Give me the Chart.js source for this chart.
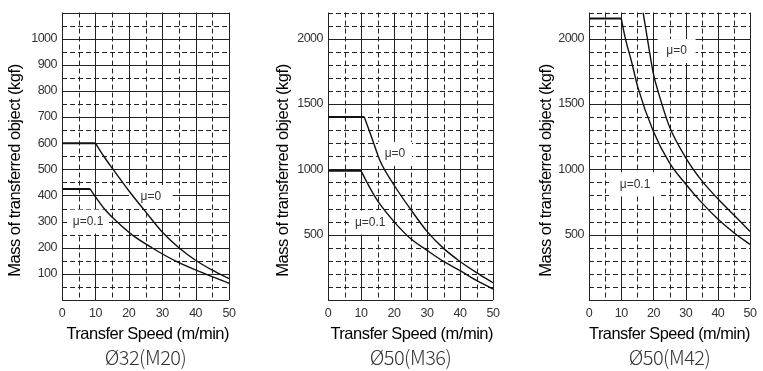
<!DOCTYPE html>
<html>
<head>
<meta charset="utf-8">
<script src="https://cdn.jsdelivr.net/npm/chart.js@4.4.0/dist/chart.umd.min.js"></script>
<style>
  html, body { margin: 0; padding: 0; background: #fff; }
  #wrap { position: relative; width: 763px; height: 371px; }
  canvas { position: absolute; top: 0; }
</style>
</head>
<body>
<div id="wrap">
  <canvas id="c1" width="254" height="371" style="left:0px"></canvas>
  <canvas id="c2" width="254" height="371" style="left:254px"></canvas>
  <canvas id="c3" width="255" height="371" style="left:508px"></canvas>
</div>
<script>
// Ø32(M20)
var m20Mu0Speed  = [0, 10, 12.5, 15, 20, 25, 30, 35, 40, 45, 50];
var m20Mu0Mass   = [600, 600, 550, 505, 418, 338, 260, 200, 152, 114, 82];
var m20Mu01Speed = [0, 8.4, 10, 12.6, 16.4, 20.9, 26.9, 33.9, 42.9, 50];
var m20Mu01Mass  = [425, 425, 395, 350, 300, 250, 200, 150, 100, 64];

// Ø50(M36)
var m36Mu0Speed  = [0, 11, 13.3, 15.8, 20, 25, 30, 35, 40, 45, 50];
var m36Mu0Mass   = [1400, 1400, 1240, 1063, 880, 695, 525, 395, 295, 210, 132];
var m36Mu01Speed = [0, 10, 11.8, 15, 20, 25, 30, 35, 40, 45, 50];
var m36Mu01Mass  = [990, 990, 900, 760, 600, 470, 380, 295, 225, 150, 84];

// Ø50(M42)
var m42Mu0Speed  = [16.8, 18, 20, 21.7, 25, 30, 35, 40, 45, 50];
var m42Mu0Mass   = [2200, 2020, 1730, 1575, 1325, 1090, 913, 775, 650, 525];
var m42Mu01Speed = [0, 10, 11.3, 13.2, 15.2, 20, 25, 30, 35, 40, 45, 50];
var m42Mu01Mass  = [2155, 2155, 2000, 1825, 1625, 1290, 1050, 888, 745, 620, 515, 425];

var speedTicks = [0, 10, 20, 30, 40, 50];
var m20MassTicks = [100, 200, 300, 400, 500, 600, 700, 800, 900, 1000];
var m50MassTicks = [500, 1000, 1500, 2000];

var titleFont = "'Liberation Sans', Arial, sans-serif";

function toPoints(xs, ys){
    var pts = [];
    for(var i = 0; i < xs.length; i++) pts.push({x: xs[i], y: ys[i]});
    return pts;
}

// flat part (straight) + falling part (smooth)
function seriesSets(xs, ys){
    var pts = toPoints(xs, ys);
    var knee = 0;
    while(knee + 1 < ys.length && ys[knee + 1] === ys[0]) knee++;
    var sets = [];
    if(knee > 0){
        sets.push({data: pts.slice(0, knee + 1), borderColor: '#111', borderWidth: 2, pointRadius: 0, tension: 0});
    }
    sets.push({data: pts.slice(knee), borderColor: '#111', borderWidth: 1.4, pointRadius: 0, cubicInterpolationMode: 'monotone'});
    return sets;
}

// dashed / solid grid and label boxes
var gridPlugin = {
    id: 'gridPlugin',
    beforeDraw: function(chart){
        // the scanned labels are set tight
        chart.ctx.letterSpacing = '-0.5px';
    },
    beforeDatasetsDraw: function(chart, args, opts){
        var ctx = chart.ctx, a = chart.chartArea;
        var xs = chart.scales.x, ys = chart.scales.y;
        ctx.letterSpacing = '0px';
        ctx.save();
        ctx.strokeStyle = '#222';
        ctx.lineWidth = 1;
        xs.ticks.forEach(function(t){
            var px = Math.round(xs.getPixelForValue(t.value)) + 0.5;
            ctx.setLineDash(t.value % 10 === 0 ? [] : [5, 3]);
            ctx.beginPath(); ctx.moveTo(px, a.top); ctx.lineTo(px, a.bottom); ctx.stroke();
        });
        ys.ticks.forEach(function(t){
            var py = Math.round(ys.getPixelForValue(t.value)) + 0.5;
            ctx.setLineDash(t.value % opts.major === 0 ? [] : [5, 3]);
            ctx.beginPath(); ctx.moveTo(a.left, py); ctx.lineTo(a.right, py); ctx.stroke();
        });
        ctx.setLineDash([]);
        ctx.font = "12px 'Liberation Sans', sans-serif";
        ctx.textAlign = 'center';
        ctx.textBaseline = 'middle';
        opts.labels.forEach(function(l){
            var cx = xs.getPixelForValue(l.x), cy = ys.getPixelForValue(l.y);
            ctx.fillStyle = '#fff';
            ctx.fillRect(cx - l.w / 2, cy - 12, l.w, 24);
            ctx.fillStyle = '#333';
            ctx.fillText(l.text, cx, cy);
        });
        ctx.restore();
    }
};

function makeChart(id, sets, yMax, yStep, labelTicks, major, yWidth, yTitlePad, padRight, title, labels){
    return new Chart(document.getElementById(id).getContext('2d'), {
        type: 'line',
        data: { datasets: sets },
        plugins: [gridPlugin],
        options: {
            responsive: false,
            animation: false,
            layout: { padding: { top: 6, left: 0, right: padRight, bottom: 2 } },
            scales: {
                x: {
                    type: 'linear', min: 0, max: 50,
                    grid: { display: false, drawTicks: false },
                    border: { display: false },
                    ticks: {
                        stepSize: 5, autoSkip: false, maxRotation: 0, padding: 6,
                        color: '#333', font: { family: "'Liberation Sans', sans-serif", size: 12.5 },
                        callback: function(v){ return speedTicks.indexOf(v) >= 0 ? String(v) : ''; }
                    },
                    title: {
                        display: true, text: 'Transfer Speed (m/min)', color: '#000', align: 'end',
                        font: { family: titleFont, size: 16.5 }, padding: { top: 0, bottom: 0 }
                    },
                    afterFit: function(s){ s.height = 44; }
                },
                y: {
                    type: 'linear', min: 0, max: yMax,
                    grid: { display: false, drawTicks: false },
                    border: { display: false },
                    ticks: {
                        stepSize: yStep, autoSkip: false, padding: 5,
                        color: '#333', font: { family: "'Liberation Sans', sans-serif", size: 12.5 },
                        callback: function(v){ return labelTicks.indexOf(v) >= 0 ? String(v) : ''; }
                    },
                    title: {
                        display: true, text: 'Mass of transferred object (kgf)       ', color: '#000',
                        font: { family: titleFont, size: 16.5 }, padding: { top: yTitlePad, bottom: 0 }
                    },
                    afterFit: function(s){ s.width = yWidth; }
                }
            },
            plugins: {
                legend: { display: false },
                tooltip: { enabled: false },
                title: {
                    display: true, position: 'bottom', fullSize: false, text: title, color: '#333',
                    font: { family: "'Noto Sans CJK KR', 'Noto Sans', sans-serif", size: 20, weight: 300 },
                    padding: { top: 1, bottom: 0 }
                },
                gridPlugin: { major: major, labels: labels }
            }
        }
    });
}

makeChart('c1', seriesSets(m20Mu0Speed, m20Mu0Mass).concat(seriesSets(m20Mu01Speed, m20Mu01Mass)),
    1100, 50, m20MassTicks, 100, 62, 6, 25, 'Ø32(M20)',
    [{text: 'μ=0', x: 26.6, y: 394, w: 44}, {text: 'μ=0.1', x: 7.8, y: 300, w: 42}]);

makeChart('c2', seriesSets(m36Mu0Speed, m36Mu0Mass).concat(seriesSets(m36Mu01Speed, m36Mu01Mass)),
    2200, 100, m50MassTicks, 500, 74, 20, 15, 'Ø50(M36)',
    [{text: 'μ=0', x: 20.3, y: 1118, w: 34}, {text: 'μ=0.1', x: 12.8, y: 593, w: 42}]);

makeChart('c3', seriesSets(m42Mu0Speed, m42Mu0Mass).concat(seriesSets(m42Mu01Speed, m42Mu01Mass)),
    2200, 100, m50MassTicks, 500, 81, 29, 6, 'Ø50(M42)',
    [{text: 'μ=0', x: 27.2, y: 1905, w: 38}, {text: 'μ=0.1', x: 14.3, y: 885, w: 52}]);
</script>
</body>
</html>
